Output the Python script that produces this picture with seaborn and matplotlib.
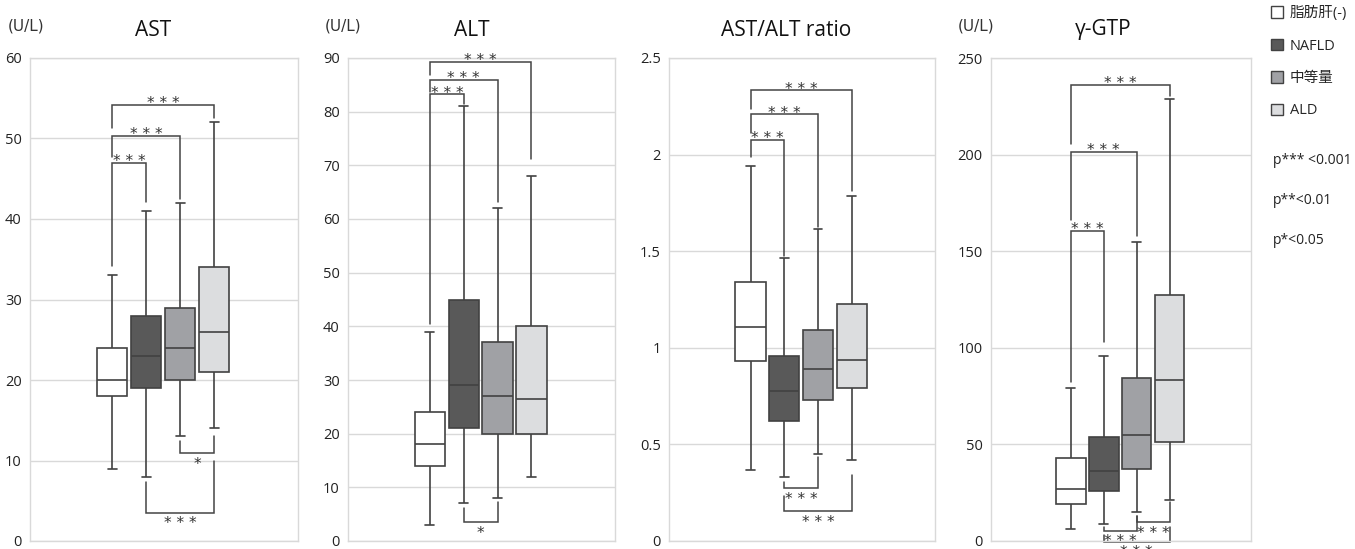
import numpy as np
import pandas as pd
import matplotlib
matplotlib.use("Agg")
import matplotlib.pyplot as plt
import seaborn as sns
from matplotlib.patches import Patch

# ---------------- data ----------------
groups = ["脂肪肝(-)", "NAFLD", "中等量", "ALD"]
group_colors = ["#ffffff", "#595959", "#a0a1a5", "#dcdddf"]

titles = ["AST", "ALT", "AST/ALT ratio", "γ-GTP"]
units = ["(U/L)", "(U/L)", "", "(U/L)"]

# five-number summaries per group: whisker low, Q1, median, Q3, whisker high
ast_stats = [[9, 18, 20, 24, 33], [8, 19, 23, 28, 41], [13, 20, 24, 29, 42], [14, 21, 26, 34, 52]]
alt_stats = [[3, 14, 18, 24, 39], [7, 21, 29, 45, 81], [8, 20, 27, 37, 62], [12, 20, 26.5, 40, 68]]
ratio_stats = [[0.37, 0.93, 1.11, 1.34, 1.94], [0.33, 0.62, 0.775, 0.96, 1.465],
               [0.45, 0.73, 0.89, 1.09, 1.615], [0.42, 0.79, 0.935, 1.225, 1.785]]
ggt_stats = [[6, 19, 27, 43, 79], [9, 26, 36, 54, 96], [15, 37.5, 55, 84.5, 155], [21, 51, 83.5, 127.5, 229]]

y_limits = [(0, 60), (0, 90), (0, 2.5), (0, 250)]
y_ticks = [np.arange(0, 61, 10), np.arange(0, 91, 10), [0, 0.5, 1, 1.5, 2, 2.5], np.arange(0, 251, 50)]
y_ticklabels = [None, None, ["0", "0.5", "1", "1.5", "2", "2.5"], None]

# significance brackets: (group i, group j, bar level, left leg end, right leg end, label, side)
ast_brackets = [(0, 1, 47.0, 34.2, 42.1, "***", "above"),
                (0, 2, 50.3, 47.7, 42.5, "***", "above"),
                (0, 3, 54.2, 51.3, 52.5, "***", "above"),
                (2, 3, 10.9, 12.4, 13.1, "*", "below"),
                (1, 3, 3.5, 7.3, 10.0, "***", "below")]
alt_brackets = [(0, 1, 83.2, 40.5, 81.5, "***", "above"),
                (0, 2, 85.9, 83.7, 63.2, "***", "above"),
                (0, 3, 89.2, 86.9, 71.1, "***", "above"),
                (1, 2, 3.5, 6.2, 7.2, "*", "below")]
ratio_brackets = [(0, 1, 2.076, 1.986, 1.475, "***", "above"),
                  (0, 2, 2.208, 2.112, 1.625, "***", "above"),
                  (0, 3, 2.332, 2.238, 1.814, "***", "above"),
                  (1, 2, 0.272, 0.307, 0.436, "***", "below"),
                  (1, 3, 0.153, 0.233, 0.343, "***", "below")]
ggt_brackets = [(0, 1, 160.6, 82.1, 102.9, "***", "above"),
                (0, 2, 201.3, 166.1, 157.9, "***", "above"),
                (0, 3, 235.9, 205.4, 230.5, "***", "above"),
                (2, 3, 9.7, 13.1, 20.0, "***", "below"),
                (1, 2, 5.3, 7.4, 13.1, "***", "below"),
                (1, 3, -0.3, 3.1, 7.1, "***", "below")]

pvalue_notes = ["p*** <0.001", "p**<0.01", "p*<0.05"]

all_stats = [ast_stats, alt_stats, ratio_stats, ggt_stats]
all_brackets = [ast_brackets, alt_brackets, ratio_brackets, ggt_brackets]

# ---------------- style ----------------
sns.set_theme(style="white")
plt.rcParams["font.family"] = ["Open Sans", "Noto Sans CJK JP", "DejaVu Sans"]

W, H = 1355, 549
fig = plt.figure(figsize=(W / 100, H / 100), dpi=100)

# axes frames in pixels: (left, right)
frames = [(30, 298), (348, 615), (669, 935), (991, 1251)]
top_px, bot_px = 58, 541
title_x = [0.459, 0.464, 0.44, 0.43]
unit_x = [8, 325, None, 958]

edge = "#424242"
line_col = "#444444"
grid_col = "#d9d9d9"

for k in range(4):
    l, r = frames[k]
    ax = fig.add_axes([l / W, 1 - bot_px / H, (r - l) / W, (bot_px - top_px) / H])
    rows = []
    for g, vals in zip(groups, all_stats[k]):
        for v in vals:
            rows.append({"group": g, "value": v})
    df = pd.DataFrame(rows)
    sns.boxplot(data=df, x="group", y="value", hue="group", order=groups, hue_order=groups,
                palette=group_colors, saturation=1, whis=(0, 100), width=0.9,
                linecolor=edge, linewidth=1.2, legend=False, ax=ax)
    # narrower caps
    for cont in ax.containers:
        if hasattr(cont, "caps"):
            for cap in cont.caps:
                xd = np.asarray(cap.get_xdata(), dtype=float)
                c = xd.mean()
                cap.set_xdata([c - 0.13, c + 0.13])
    ax.set_xlim(-2.42, 5.47)
    ax.set_ylim(*y_limits[k])
    ax.set_yticks(y_ticks[k])
    if y_ticklabels[k] is not None:
        ax.set_yticklabels(y_ticklabels[k])
    ax.set_xticks([])
    ax.set_xlabel("")
    ax.set_ylabel("")
    ax.tick_params(axis="y", length=0, pad=6, labelsize=10.5, labelcolor="#222222")
    ax.yaxis.grid(True, color=grid_col, linewidth=1.0)
    ax.set_axisbelow(True)
    for sp in ax.spines.values():
        sp.set_color(grid_col)
        sp.set_linewidth(1.0)
    ax.text(title_x[k], 1 + 28 / (bot_px - top_px), titles[k], transform=ax.transAxes,
            ha="center", va="center", fontsize=15, color="#111111")
    if units[k]:
        fig.text(unit_x[k] / W, 1 - 26 / H, units[k], ha="left", va="center",
                 fontsize=11, color="#333333", family="DejaVu Sans")
    # brackets
    for (i, j, yb, yl, yr, lab, side) in all_brackets[k]:
        ax.plot([i, i, j, j], [yl, yb, yb, yr], color=line_col, linewidth=1.1,
                clip_on=False, solid_joinstyle="miter")
        off = 1 if side == "above" else -8
        ax.annotate(" ".join(lab), xy=((i + j) / 2, yb), xytext=(0, off),
                    textcoords="offset points", ha="center", va="center", fontsize=11,
                    color="#333333", family="DejaVu Sans", annotation_clip=False)

# legend
handles = [Patch(facecolor=c, edgecolor=edge, linewidth=1.0) for c in group_colors]
fig.legend(handles, groups, loc="upper left", bbox_to_anchor=(1271 / W, 1 - 6 / H),
           frameon=False, fontsize=10.5, handlelength=0.85, handleheight=0.85,
           handletextpad=0.45, labelspacing=1.2, borderaxespad=0, borderpad=0)

for txt, ypx in zip(pvalue_notes, [160, 200, 240]):
    fig.text(1273 / W, 1 - ypx / H, txt, ha="left", va="center", fontsize=10, color="#222222")

fig.savefig("out.png", dpi=100)
